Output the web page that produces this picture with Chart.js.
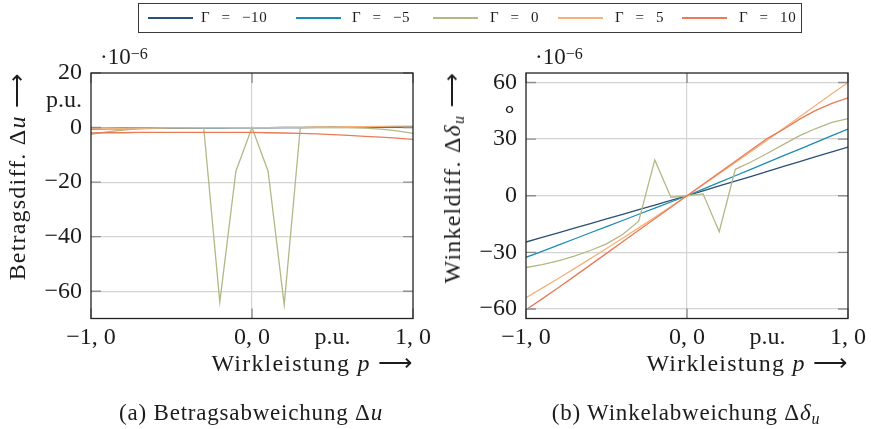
<!DOCTYPE html>
<html><head><meta charset="utf-8">
<script src="https://cdn.jsdelivr.net/npm/chart.js@4.4.0/dist/chart.umd.min.js"></script>
<style>
body{margin:0;background:#fff;width:871px;height:429px;overflow:hidden;position:relative;font-family:"Liberation Serif",serif;color:#1c1c1c}
.abs{position:absolute;white-space:nowrap}
.cv{position:absolute;top:0}
#legend{position:absolute;left:138px;top:3px;width:662px;height:28px;border:1.3px solid #3a3a3a}
.lline{position:absolute;height:2px;top:13px;width:45px}
.ltext{position:absolute;top:4px;font-size:15px;line-height:18px;word-spacing:7px;letter-spacing:0.6px;white-space:nowrap}
.exp{font-size:23px;line-height:24px}
.exp sup{font-size:16px;position:relative;top:-3px;vertical-align:top}
.ytitle{font-size:24px;line-height:26px;text-align:right;letter-spacing:1.2px;transform:translate(-50%,-50%) rotate(-90deg)}
.xtitle{font-size:24px;line-height:26px;text-align:right;letter-spacing:1.2px}
.cap{font-size:23px;line-height:24px;letter-spacing:0.8px;transform:translateX(-50%)}
sub{font-size:16px;vertical-align:-4px;line-height:0}
</style></head><body>
<canvas id="c1" class="cv" width="435" height="429" style="left:0;width:435px;height:429px"></canvas>
<canvas id="c2" class="cv" width="436" height="429" style="left:435px;width:436px;height:429px"></canvas>

<div id="legend"></div>

<div class="abs exp" style="left:100px;top:45px">·10<sup>−6</sup></div>
<div class="abs exp" style="left:535px;top:45px">·10<sup>−6</sup></div>

<div class="abs ytitle" style="left:17px;top:179px;width:212px">Betragsdiff. Δ<i>u</i> ⟶</div>
<div class="abs ytitle" style="left:452px;top:185px;width:225px">Winkeldiff. Δ<i>δ</i><sub><i>u</i></sub> ⟶</div>

<div class="abs xtitle" style="left:113px;top:350px;width:300px">Wirkleistung <i>p</i> ⟶</div>
<div class="abs xtitle" style="left:548px;top:350px;width:300px">Wirkleistung <i>p</i> ⟶</div>

<div class="abs cap" style="left:251px;top:401px">(a) Betragsabweichung Δ<i>u</i></div>
<div class="abs cap" style="left:686px;top:401px">(b) Winkelabweichung Δ<i>δ</i><sub><i>u</i></sub></div>

<script>
// ---- data (values in units of 1e-6) ----
const pValues = [-1.0,-0.9,-0.8,-0.7,-0.6,-0.5,-0.4,-0.3,-0.2,-0.1,0.0,0.1,0.2,0.3,0.4,0.5,0.6,0.7,0.8,0.9,1.0];
const gammaLabels = ["Γ = −10","Γ = −5","Γ = 0","Γ = 5","Γ = 10"];
const seriesColors = ["#2b4f75","#1c8db2","#b4b786","#f6b17b","#e97b55"];

// Betragsabweichung Δu
const duGm10 = [-0.3,-0.3,-0.2,-0.2,-0.1,-0.1,-0.1,0,0,0,0,0,0,0,0.1,0.1,0.1,0.1,0.2,0.2,0.2];
const duGm5  = [-0.6,-0.5,-0.5,-0.4,-0.3,-0.3,-0.2,-0.1,-0.1,0,0,0,0.1,0.1,0.1,0.2,0.2,0.2,0.3,0.3,0.3];
const duG0   = [-2.5,-1.6,-0.9,-0.4,-0.1,0,0,0,-64,-16,0,-16,-65,0,0,0,0,-0.2,-0.6,-1.2,-2.1];
const duG5   = [-0.4,-0.3,-0.3,-0.2,-0.2,-0.1,-0.1,0,0,0,0,0,0.1,0.1,0.2,0.2,0.3,0.3,0.4,0.5,0.5];
const duG10  = [-2.0,-1.9,-1.9,-1.8,-1.8,-1.8,-1.8,-1.8,-1.8,-1.8,-1.8,-1.9,-2.0,-2.1,-2.3,-2.6,-2.9,-3.2,-3.5,-3.9,-4.3];

// Winkelabweichung Δδu
const ddGm10 = [-24.5,-22,-19.6,-17.1,-14.7,-12.3,-9.8,-7.4,-4.9,-2.5,0,2.6,5.2,7.8,10.3,12.9,15.5,18.1,20.7,23.2,25.8];
const ddGm5  = [-32.6,-29.4,-26.1,-22.9,-19.6,-16.4,-13.1,-9.8,-6.6,-3.3,0,3.5,7.1,10.6,14.1,17.7,21.2,24.7,28.3,31.8,35.3];
const ddG0   = [-38,-36.5,-34.5,-32,-29,-25.5,-20.5,-13.5,19,-0.8,0,1,-19,14,18,22.5,27.2,31.8,35.6,38.8,40.9];
const ddG5   = [-54,-48.9,-43.8,-38.6,-33.3,-27.9,-22.5,-17,-11.4,-5.7,0,5.8,11.7,17.6,23.6,29.6,35.7,41.8,47.9,54,60];
const ddG10  = [-60.4,-54.6,-48.7,-42.7,-36.6,-30.5,-24.4,-18.3,-12.2,-6.1,0,6.1,12.2,18.3,24.4,30.4,35.2,40.6,45.2,48.9,51.9];

// ticks
const xTickValues = [-1, 0, 0.5, 1];
const xTickLabels = ["−1, 0", "0, 0", "p.u.", "1, 0"];
const xMarkValues = [-1, 0, 1];
const yTicksLeft  = [-60, -40, -20, 0, 10, 20];
const yLabelsLeft = ["−60", "−40", "−20", "0", "p.u.", "20"];
const yMarksLeft  = [-60, -40, -20, 0, 20];
const yTicksRight  = [-60, -30, 0, 30, 45, 60];
const yLabelsRight = ["−60", "−30", "0", "30", "∘", "60"];
const yMarksRight  = [-60, -30, 0, 30, 60];

// legend (HTML)
const legendLineX = [9, 157, 294, 419, 543];
const legendTextX = [62, 213, 351, 476, 600];
const legendEl = document.getElementById('legend');
gammaLabels.forEach((lab, i) => {
  const l = document.createElement('div'); l.className = 'lline';
  l.style.left = legendLineX[i] + 'px'; l.style.backgroundColor = seriesColors[i];
  legendEl.appendChild(l);
  const t = document.createElement('div'); t.className = 'ltext';
  t.style.left = legendTextX[i] + 'px'; t.textContent = lab;
  legendEl.appendChild(t);
});

const framePlugin = {
  id: 'frame',
  afterDatasetsDraw(chart, args, opts) {
    const {ctx, chartArea: a, scales: {x, y}} = chart;
    ctx.save();
    ctx.strokeStyle = '#8f8f8f'; ctx.lineWidth = 1.4;
    ctx.beginPath();
    for (const v of opts.xMarks) {
      const px = x.getPixelForValue(v);
      ctx.moveTo(px, a.bottom); ctx.lineTo(px, a.bottom - 10);
      ctx.moveTo(px, a.top); ctx.lineTo(px, a.top + 10);
    }
    for (const v of opts.yMarks) {
      const py = y.getPixelForValue(v);
      ctx.moveTo(a.left, py); ctx.lineTo(a.left + 10, py);
      ctx.moveTo(a.right, py); ctx.lineTo(a.right - 10, py);
    }
    ctx.stroke();
    ctx.strokeStyle = '#222'; ctx.lineWidth = 1.3;
    ctx.strokeRect(a.left, a.top, a.right - a.left, a.bottom - a.top);
    ctx.restore();
  }
};

function makeChart(id, series, yMin, yMax, yTicks, yLabels, yMarks, padRight) {
  const datasets = series.map((s, i) => ({
    label: gammaLabels[i],
    data: pValues.map((p, j) => ({x: p, y: s[j]})),
    borderColor: seriesColors[i],
    borderWidth: 1.3,
    pointRadius: 0,
    tension: 0,
    fill: false,
    order: series.length - i
  }));
  const tickFont = {family: 'Liberation Serif', size: 24};
  return new Chart(document.getElementById(id), {
    type: 'line',
    data: {datasets},
    plugins: [framePlugin],
    options: {
      responsive: false,
      animation: false,
      devicePixelRatio: 1,
      layout: {padding: {top: 73, right: padRight, left: 0, bottom: 0}},
      plugins: {legend: {display: false}, tooltip: {enabled: false}, frame: {xMarks: xMarkValues, yMarks: yMarks}},
      scales: {
        x: {
          type: 'linear', min: -1, max: 1,
          afterBuildTicks: s => { s.ticks = xTickValues.map(v => ({value: v})); },
          afterFit: s => { s.height = 429 - 318.5; s.paddingLeft = 0; s.paddingRight = 0; },
          ticks: {
            autoSkip: false, maxRotation: 0, padding: 5, color: '#1c1c1c', font: tickFont,
            callback: v => xTickLabels[xTickValues.indexOf(v)]
          },
          grid: {
            drawTicks: false, lineWidth: 1.2,
            color: c => (c.tick && c.tick.value === 0) ? '#d4d4d4' : 'rgba(0,0,0,0)'
          },
          border: {display: false}
        },
        y: {
          type: 'linear', min: yMin, max: yMax,
          afterBuildTicks: s => { s.ticks = yTicks.map(v => ({value: v})); },
          afterFit: s => { s.width = 91; s.paddingTop = 0; s.paddingBottom = 0; },
          ticks: {
            autoSkip: false, padding: 9, color: '#1c1c1c', font: tickFont,
            callback: v => yLabels[yTicks.indexOf(v)]
          },
          grid: {
            drawTicks: false, lineWidth: 1.2,
            color: c => (c.tick && yMarks.includes(c.tick.value) && c.tick.value !== yMax) ? '#d4d4d4' : 'rgba(0,0,0,0)'
          },
          border: {display: false}
        }
      }
    }
  });
}

makeChart('c1', [duGm10, duGm5, duG0, duG5, duG10], -70, 20, yTicksLeft, yLabelsLeft, yMarksLeft, 22);
makeChart('c2', [ddGm10, ddGm5, ddG0, ddG5, ddG10], -65, 65, yTicksRight, yLabelsRight, yMarksRight, 23);
</script>
</body></html>
